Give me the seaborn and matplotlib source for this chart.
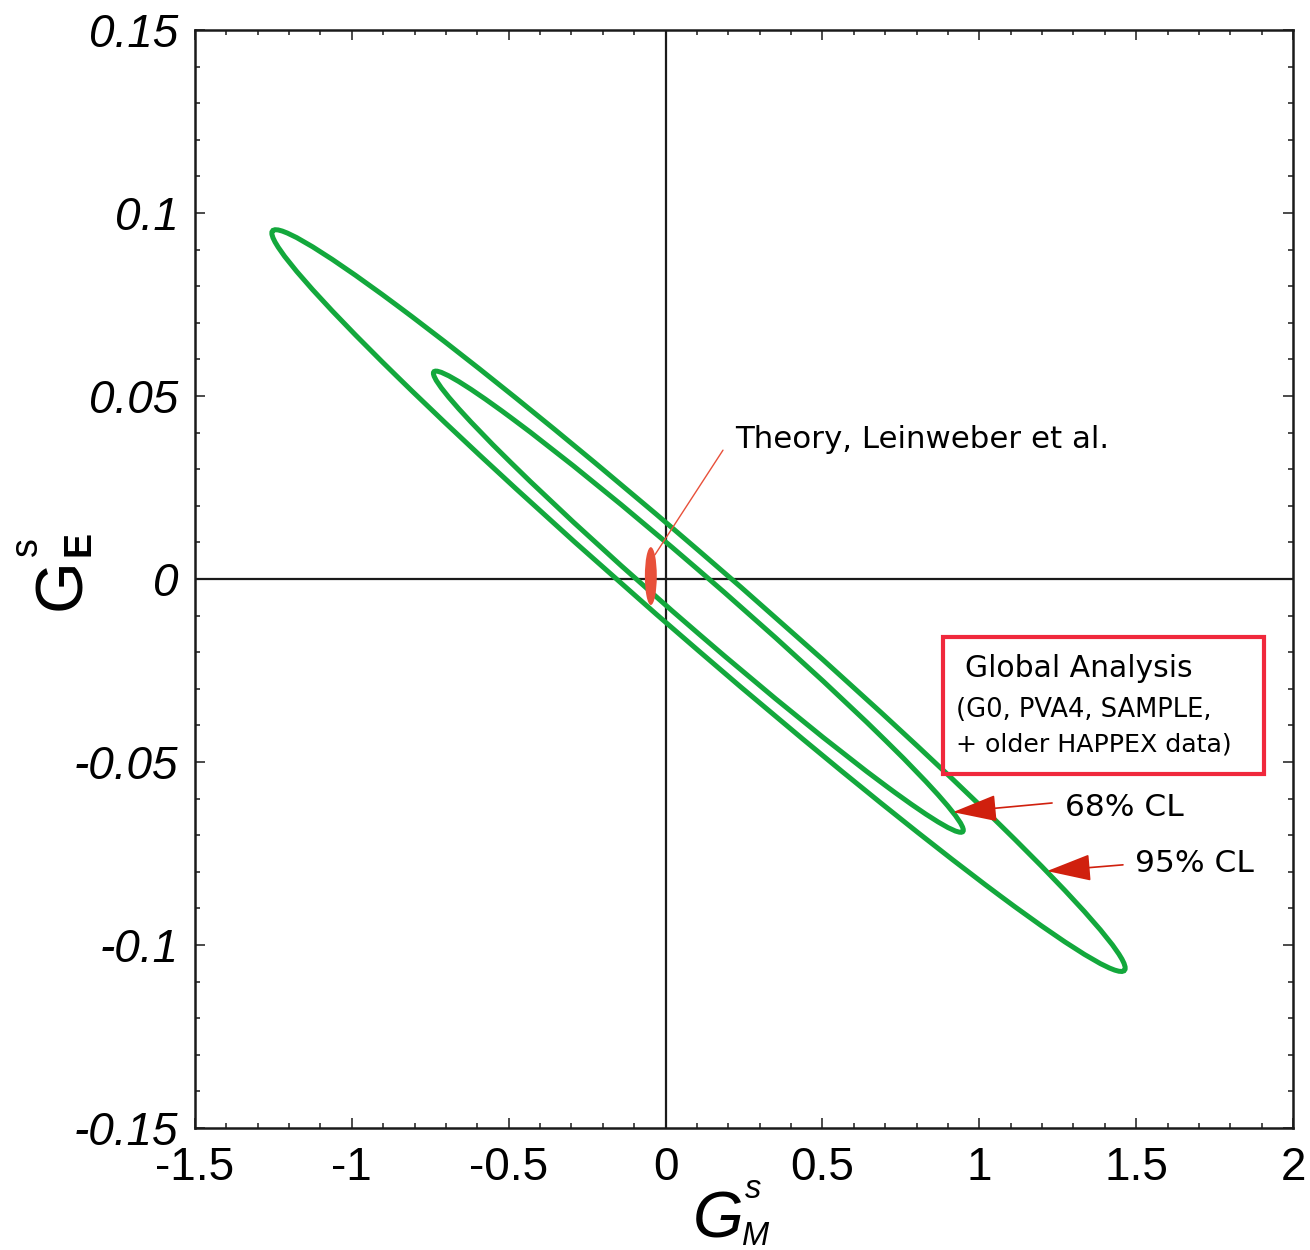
import numpy as np
import seaborn as sns
import matplotlib
matplotlib.use("Agg")
import matplotlib.pyplot as plt
from matplotlib.patches import Circle, Ellipse, Rectangle
from matplotlib.transforms import Affine2D
from matplotlib.ticker import MultipleLocator

# confidence contours (x = G_M^s, y = G_E^s)
cl_names = ["95% CL", "68% CL"]
cl_center_x = [0.105, 0.1045]
cl_center_y = [-0.0059, -0.0062]
cl_tip_x = [-1.255, -0.740]        # left-most point of each contour
cl_tip_y = [0.0945, 0.0562]
cl_half_height = [0.0137, 0.0087]  # vertical half chord through the centre

# theory (Leinweber et al.)
theory_x = -0.047
theory_y = 0.0008
theory_half_w = 0.019
theory_half_h = 0.0079

x_ticks = [-1.5, -1, -0.5, 0, 0.5, 1, 1.5, 2]
x_ticklabels = ["-1.5", "-1", "-0.5", "0", "0.5", "1", "1.5", "2"]
y_ticks = [-0.15, -0.1, -0.05, 0, 0.05, 0.1, 0.15]
y_ticklabels = ["-0.15", "-0.1", "-0.05", "0", "0.05", "0.1", "0.15"]

box_lines = ["Global Analysis", "(G0, PVA4, SAMPLE,", "+ older HAPPEX data)"]

green = "#13a83c"
arrow_red = "#d0200e"
light_red = "#e8503a"

sns.set_theme(style="ticks")
plt.rcParams["font.family"] = ["DejaVu Sans"]
plt.rcParams["axes.unicode_minus"] = False
plt.rcParams["text.color"] = "black"
plt.rcParams["xtick.color"] = "black"
plt.rcParams["ytick.color"] = "black"
plt.rcParams["xtick.labelcolor"] = "black"
plt.rcParams["ytick.labelcolor"] = "black"

W, H = 1310, 1250
fig = plt.figure(figsize=(W / 100, H / 100), dpi=100)
ax = fig.add_axes([195 / W, 1 - 1128 / H, 1098 / W, 1098 / H])


def px(x, y):
    return x / W, 1 - y / H


# contours: unit circle mapped through centre + two conjugate half axes
for i in range(len(cl_names)):
    cx, cy = cl_center_x[i], cl_center_y[i]
    m = np.array([[cl_tip_x[i] - cx, 0.0, cx],
                  [cl_tip_y[i] - cy, cl_half_height[i], cy],
                  [0.0, 0.0, 1.0]])
    c = Circle((0, 0), 1, fill=False, ec=green, lw=3.6,
               transform=Affine2D(m) + ax.transData, zorder=3)
    ax.add_patch(c)

ax.add_patch(Ellipse((theory_x, theory_y), 2 * theory_half_w, 2 * theory_half_h,
                     fc=light_red, ec="none", zorder=4))

ax.axhline(0, color="#1a1a1a", lw=1.6, zorder=2)
ax.axvline(0, color="#1a1a1a", lw=1.6, zorder=2)

ax.set_xlim(-1.5, 2)
ax.set_ylim(-0.15, 0.15)
ax.set_xticks(x_ticks)
ax.set_xticklabels(x_ticklabels, fontsize=33, family="Liberation Sans")
ax.set_yticks(y_ticks)
ax.set_yticklabels(y_ticklabels, fontsize=33, family="Liberation Sans", style="italic")
ax.xaxis.set_minor_locator(MultipleLocator(0.1))
ax.yaxis.set_minor_locator(MultipleLocator(0.01))
ax.tick_params(which="both", direction="in", top=True, right=True, color="#1a1a1a", width=1.1)
ax.tick_params(which="major", length=7)
ax.tick_params(which="minor", length=3.5)
ax.tick_params(axis="x", pad=13)
ax.tick_params(axis="y", pad=12)
for s in ax.spines.values():
    s.set_linewidth(1.8)
    s.set_color("#1a1a1a")

# theory annotation
ax.plot([-0.034, 0.183], [0.0066, 0.0352], color=light_red, lw=1.0, zorder=5)
ax.text(0.2215, 0.0358, "Theory, Leinweber et al.", fontsize=22.2, va="baseline", ha="left")

# CL arrows
arrows = [((0.916, -0.0637), (1.232, -0.0612), 1.274, -0.0648, "68% CL"),
          ((1.216, -0.0798), (1.458, -0.0781), 1.497, -0.0800, "95% CL")]
for tip, tail, tx, ty, lab in arrows:
    ax.annotate("", xy=tip, xytext=tail,
                arrowprops=dict(arrowstyle="-|>,head_length=2.8,head_width=0.85",
                                mutation_scale=10, color=arrow_red, lw=1.2,
                                shrinkA=0, shrinkB=0), zorder=6)
    ax.text(tx, ty, lab, fontsize=22.5, va="baseline", ha="left")

# legend box
ax.add_patch(Rectangle((0.884, -0.0533), 1.908 - 0.884, 0.0533 - 0.01585,
                       fill=False, ec="#f0283c", lw=3, zorder=6))
ax.text(0.955, -0.0267, box_lines[0], fontsize=21.5, va="baseline", ha="left")
ax.text(0.926, -0.0376, box_lines[1], fontsize=18.5, va="baseline", ha="left")
ax.text(0.926, -0.0472, box_lines[2], fontsize=18.2, va="baseline", ha="left")

# axis labels built from pieces
lab_font = "Liberation Sans"
fig.text(*px(693, 1238), "G", fontsize=47, style="italic", family=lab_font, ha="left", va="baseline")
fig.text(*px(745, 1198), "s", fontsize=23.5, style="italic", family=lab_font, ha="left", va="baseline")
fig.text(*px(742, 1245), "M", fontsize=23.5, style="italic", family=lab_font, ha="left", va="baseline")

fig.text(*px(80, 610), "G", fontsize=48, family=lab_font, rotation=90,
         rotation_mode="anchor", ha="left", va="baseline")
fig.text(*px(90, 556), "E", fontsize=27, weight="bold", family=lab_font, rotation=90,
         rotation_mode="anchor", ha="left", va="baseline")
fig.text(*px(37, 556), "s", fontsize=27, family=lab_font, rotation=90,
         rotation_mode="anchor", ha="left", va="baseline")

fig.savefig("out.png", dpi=100, facecolor="white")
